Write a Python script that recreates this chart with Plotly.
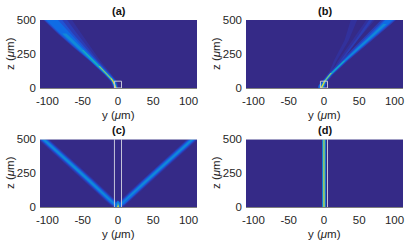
import plotly.graph_objects as go

W, H = 415, 242
BG = "#352a87"
TITLES = ["(a)", "(b)", "(c)", "(d)"]
XTICKS = [-100, -50, 0, 50, 100]
XLABELS = ["-100", "-50", "0", "50", "100"]
ZTICKS = [0, 250, 500]

# Intensity levels (parula-like), weakest to strongest
C1, C2, C3, C4, C5, C6, C7, C8 = ("#32319c", "#2c3db4", "#2152d2", "#0f6ce4",
                                  "#1289d8", "#18aebc", "#8cc07a", "#f4dc30")

# Panel (a): beam outlines, y edges (um) read at stations z (um)
a_z = [0, 50, 100, 200, 300, 400, 500]
a1_l = [-7, -11, -20, -41, -64, -86, -106]
a1_r = [1, -1, -9, -25, -38, -52, -65]
a2_l = [-6, -10, -19, -40, -63, -85, -105]
a2_r = [0, -2, -10, -28, -43, -58, -72]
a3_l = [-5.5, -9.5, -18.5, -39, -62, -84, -104]
a3_r = [-.5, -3, -11, -30, -47, -64, -79]
a4_l = [-5, -9, -18, -38.5, -60, -82, -102]
a4_r = [-1, -3.5, -12, -31, -50, -68, -85]
a5_z = [0, 50, 100, 200, 300, 400]
a5_l = [-4.8, -8.5, -17.5, -37.5, -58.5, -79]
a5_r = [-1.4, -4.2, -13, -32, -53, -73]
a6_z = [0, 50, 100, 150, 200, 280]
a6_l = [-4.6, -8, -17, -27.5, -36.5, -51]
a6_r = [-1.8, -4.8, -13.5, -23.5, -33.5, -49]
a7_z = [0, 50, 100, 160]
a7_l = [-4.3, -7.6, -16.3, -27.5]
a7_r = [-2.3, -5.4, -14.1, -25.5]
a8_z = [0, 25, 70]
a8_l = [-4, -5.3, -10.2]
a8_r = [-2.6, -4.1, -9]

# Panel (b): main beam
b_z = [0, 50, 100, 200, 300, 400, 500]
b1_l = [-8, -3, 5, 24, 44, 63, 81]
b1_r = [1, 5, 13, 34, 57, 79, 102]
b3_l = [-7, -1.5, 6.5, 26, 46, 66, 85]
b3_r = [0, 3.5, 11.5, 32, 55, 77, 100]
b4_l = [-6.5, -1, 7, 26.5, 47.5, 68.5, 87]
b4_r = [-.5, 3, 11, 31.5, 53.5, 75, 98]
b5_z = [0, 50, 100, 200, 300, 400, 470]
b5_l = [-6, -.5, 7.5, 27.5, 48.5, 70, 84]
b5_r = [-1, 2.5, 10.5, 30.5, 52.5, 73.5, 89]
b6_z = [0, 50, 100, 200]
b6_l = [-5.5, -.2, 8, 28]
b6_r = [-1.5, 2.2, 10, 30]
b7_z = [0, 50, 110]
b7_l = [-5, .1, 9.2]
b7_r = [-2.4, 1.9, 11.2]
b8_z = [0, 30, 55]
b8_l = [-4.5, -1.6, 1]
b8_r = [-3, -.4, 2.2]
# Panel (b): near-source blob and side rays
bb_z = [0, 15, 30, 45]
bb_l = [-8, -8, -6, -2]
bb_r = [0, 0, 1, 2]
r1_z = [60, 200, 350, 500]
r1_l = [3, 14, 29, 38]
r1_r = [5, 18, 35, 47]
r2_z = [80, 200, 350, 500]
r2_l = [7, 20, 40, 60]
r2_r = [9, 24, 47, 72]
r3_z = [100, 200, 350, 500]
r3_l = [10, 23, 44, 64]
r3_r = [11, 25, 47, 69]

# Panel (c): left arm of the V (right arm is its mirror image)
c_z = [0, 25, 50, 100, 200, 300, 400, 500]
c1_l = [-8, -14, -19, -29, -50, -71, -92, -114]
c1_r = [6, 2, -3, -13, -34, -55, -76, -98]
c2_l = [-6, -12.5, -17.5, -27.5, -48.5, -69.5, -90.5, -112.5]
c2_r = [4, .5, -4.5, -14.5, -35.5, -56.5, -77.5, -99.5]
c3_l = [-4, -11, -16, -26, -47, -68, -89, -111]
c3_r = [2, -1, -6, -16, -37, -58, -79, -101]
c4_l = [-2, -9.5, -14.5, -24.5, -45.5, -66.5, -87.5, -109.5]
c4_r = [.5, -2.5, -7.5, -17.5, -38.5, -59.5, -80.5, -102.5]
c5_l = [-1, -7.5, -12.5, -23, -44, -65, -86, -108]
c5_r = [0, -4.5, -9.5, -19, -40, -61, -82, -104]
# Panel (c): bright spot at the source
cs_z = [0, 12, 30, 48]
cs1_h = [4, 4, 3, 0]
cs2_h = [2.5, 2.2, 1.4, 0]
cs3_h = [1.4, 1, 0]
cs4_h = [.9, .5]

# Panel (d): straight vertical beam
d_z = [0, 500]
d_half = [2.8, 2.3, 1.7, 1.1, .5]

BOX_A = ([-5, 5, 5, -5, -5], [0, 0, 50, 50, 0])
BOX_C = ([-5, -5], [0, 500], [5, 5], [0, 500])
BOX_D = ([5, 5], [0, 500])
TOP_EDGE = ([-110.5, 112], [500, 500])

fig = go.Figure()


def band(n, z, left, right, color):
    fig.add_trace(go.Scatter(x=list(left) + list(right)[::-1], y=list(z) + list(z)[::-1],
                             mode="lines", fill="toself", fillcolor=color, line=dict(width=0),
                             hoverinfo="skip", showlegend=False,
                             xaxis=f"x{n}" if n > 1 else "x", yaxis=f"y{n}" if n > 1 else "y"))


def box(n, xs, ys, width=1):
    fig.add_trace(go.Scatter(x=xs, y=ys, mode="lines", line=dict(color="#c4c4d8", width=width),
                             hoverinfo="skip", showlegend=False, cliponaxis=False,
                             xaxis=f"x{n}" if n > 1 else "x", yaxis=f"y{n}" if n > 1 else "y"))


for z, l, r, c in [(a_z, a1_l, a1_r, C1), (a_z, a2_l, a2_r, C2), (a_z, a3_l, a3_r, C3),
                   (a_z, a4_l, a4_r, C4), (a5_z, a5_l, a5_r, C5), (a6_z, a6_l, a6_r, C6),
                   (a7_z, a7_l, a7_r, C7), (a8_z, a8_l, a8_r, C8)]:
    band(1, z, l, r, c)
box(1, *BOX_A)

for z, l, r, c in [(r1_z, r1_l, r1_r, C1), (r2_z, r2_l, r2_r, C1), (r3_z, r3_l, r3_r, C2),
                   (b_z, b1_l, b1_r, C2), (b_z, b3_l, b3_r, C3), (b_z, b4_l, b4_r, C4),
                   (bb_z, bb_l, bb_r, C4), (b5_z, b5_l, b5_r, C5), (b6_z, b6_l, b6_r, C6),
                   (b7_z, b7_l, b7_r, C7), (b8_z, b8_l, b8_r, C8)]:
    band(2, z, l, r, c)
box(2, *BOX_A)

for l, r, c in [(c1_l, c1_r, C1), (c2_l, c2_r, C2), (c3_l, c3_r, C3),
                (c4_l, c4_r, C4), (c5_l, c5_r, C5)]:
    band(3, c_z, l, r, c)
    band(3, c_z, [-v for v in r], [-v for v in l], c)
for z, h, c in [(cs_z, cs1_h, C4), (cs_z, cs2_h, C5), (cs_z[:3], cs3_h, C7), (cs_z[:2], cs4_h, C8)]:
    band(3, z, [-v for v in h], h, c)
box(3, BOX_C[0], BOX_C[1])
box(3, BOX_C[2], BOX_C[3])
box(3, *TOP_EDGE, width=1.5)

for h, c in zip(d_half, [C3, C5, C6, C7, "#c8cc50"]):
    band(4, d_z, [-h, -h], [h, h], c)
box(4, *BOX_D)
box(4, *TOP_EDGE, width=1.5)

layout = dict(width=W, height=H, autosize=False, margin=dict(l=0, r=0, t=0, b=0),
              paper_bgcolor="white", plot_bgcolor=BG,
              font=dict(family="Liberation Sans, Arial, sans-serif", size=11.5, color="#262626"))
frames = [(40, 197, 20, 88), (246, 403, 20, 88), (40, 197, 139, 207), (246, 403, 139, 207)]
annos = []
for i, (x0, x1, y0, y1) in enumerate(frames):
    s = "" if i == 0 else str(i + 1)
    layout[f"xaxis{s}"] = dict(domain=[x0 / W, x1 / W], range=[-110.5, 112], anchor=f"y{s}",
                               tickvals=XTICKS, ticktext=XLABELS, ticks="", showgrid=False, zeroline=False,
                               showline=True, linecolor="#7f7f7f", linewidth=1, automargin=False,
                               ticklabelstandoff=2,
                               tickfont=dict(size=11.5, color="#262626"))
    layout[f"yaxis{s}"] = dict(domain=[1 - y1 / H, 1 - y0 / H], range=[0, 500], anchor=f"x{s}",
                               tickvals=ZTICKS, ticks="", showgrid=False, zeroline=False,
                               showline=False, automargin=False, ticklabelstandoff=3,
                               tickfont=dict(size=11.5, color="#262626"))
    annos.append(dict(text=f"<b>{TITLES[i]}</b>", x=(x0 + x1) / 2 / W, y=1 - (y0 - 9) / H,
                      xref="paper", yref="paper", showarrow=False, xanchor="center", yanchor="middle",
                      font=dict(size=11, color="#111111")))
    annos.append(dict(text="y (<i>μ</i>m)", x=(x0 + x1) / 2 / W, y=1 - (y1 + 27) / H,
                      xref="paper", yref="paper", showarrow=False, xanchor="center", yanchor="middle",
                      font=dict(size=11.5, color="#262626")))
    annos.append(dict(text="z (<i>μ</i>m)", x=(x0 - 30) / W, y=1 - (y0 + y1) / 2 / H, textangle=-90,
                      xref="paper", yref="paper", showarrow=False, xanchor="center", yanchor="middle",
                      font=dict(size=11.5, color="#262626")))
layout["annotations"] = annos
fig.update_layout(**layout)
fig.write_html("out.html", config=dict(displayModeBar=False), post_script="document.body.style.margin='0';")
